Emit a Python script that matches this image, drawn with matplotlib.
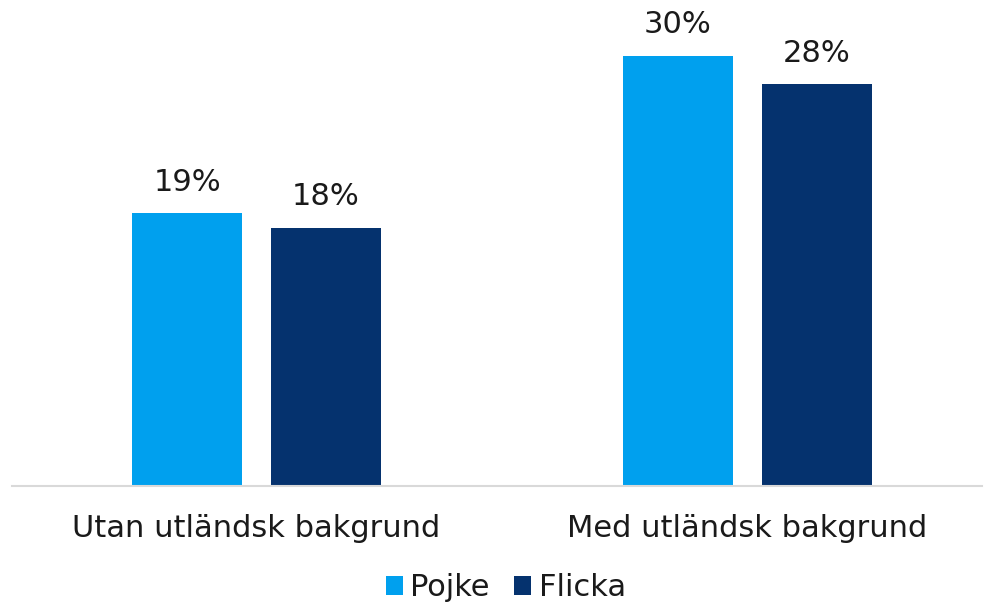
import matplotlib
matplotlib.use("Agg")
import matplotlib.pyplot as plt
import numpy as np

categories = ["Utan utländsk bakgrund", "Med utländsk bakgrund"]
series = ["Pojke", "Flicka"]
pojke = [19, 30]
flicka = [18, 28]
colors = ["#00A0EE", "#05326E"]

plt.rcParams["font.family"] = ["DejaVu Sans"]
FS = 22

fig = plt.figure(figsize=(9.86, 6.06), dpi=100)
ax = fig.add_axes([12/986, (606-486)/606, 970/986, 476/606])

x = np.arange(len(categories))
w = 0.224
off = 0.1415
for vals, c, name, dx in [(pojke, colors[0], series[0], -off), (flicka, colors[1], series[1], off)]:
    bars = ax.bar(x + dx, vals, w, color=c, label=name)
    for b, v in zip(bars, vals):
        ax.annotate(f"{v}%", (b.get_x() + b.get_width()/2, v), textcoords="offset points",
                    xytext=(0, 12), ha="center", va="bottom", fontsize=FS, color="#1a1a1a")

ax.set_xlim(-0.498, 1.478)
ax.set_ylim(0, 476/14.35)
ax.set_yticks([])
ax.set_xticks(x)
ax.set_xticklabels(categories, fontsize=FS, color="#1a1a1a")
ax.tick_params(axis="x", length=0, pad=20)
for s in ("top", "right", "left"):
    ax.spines[s].set_visible(False)
ax.spines["bottom"].set_color("#D9D9D9")
ax.spines["bottom"].set_linewidth(1.5)

leg = fig.legend(loc="center", bbox_to_anchor=(506/986, 1 - 588/606), ncol=2, frameon=False,
                 fontsize=FS, handlelength=0.55, handleheight=0.55, handletextpad=0.25, columnspacing=0.8)
for t in leg.get_texts():
    t.set_color("#1a1a1a")

fig.savefig("out.png", dpi=100)
